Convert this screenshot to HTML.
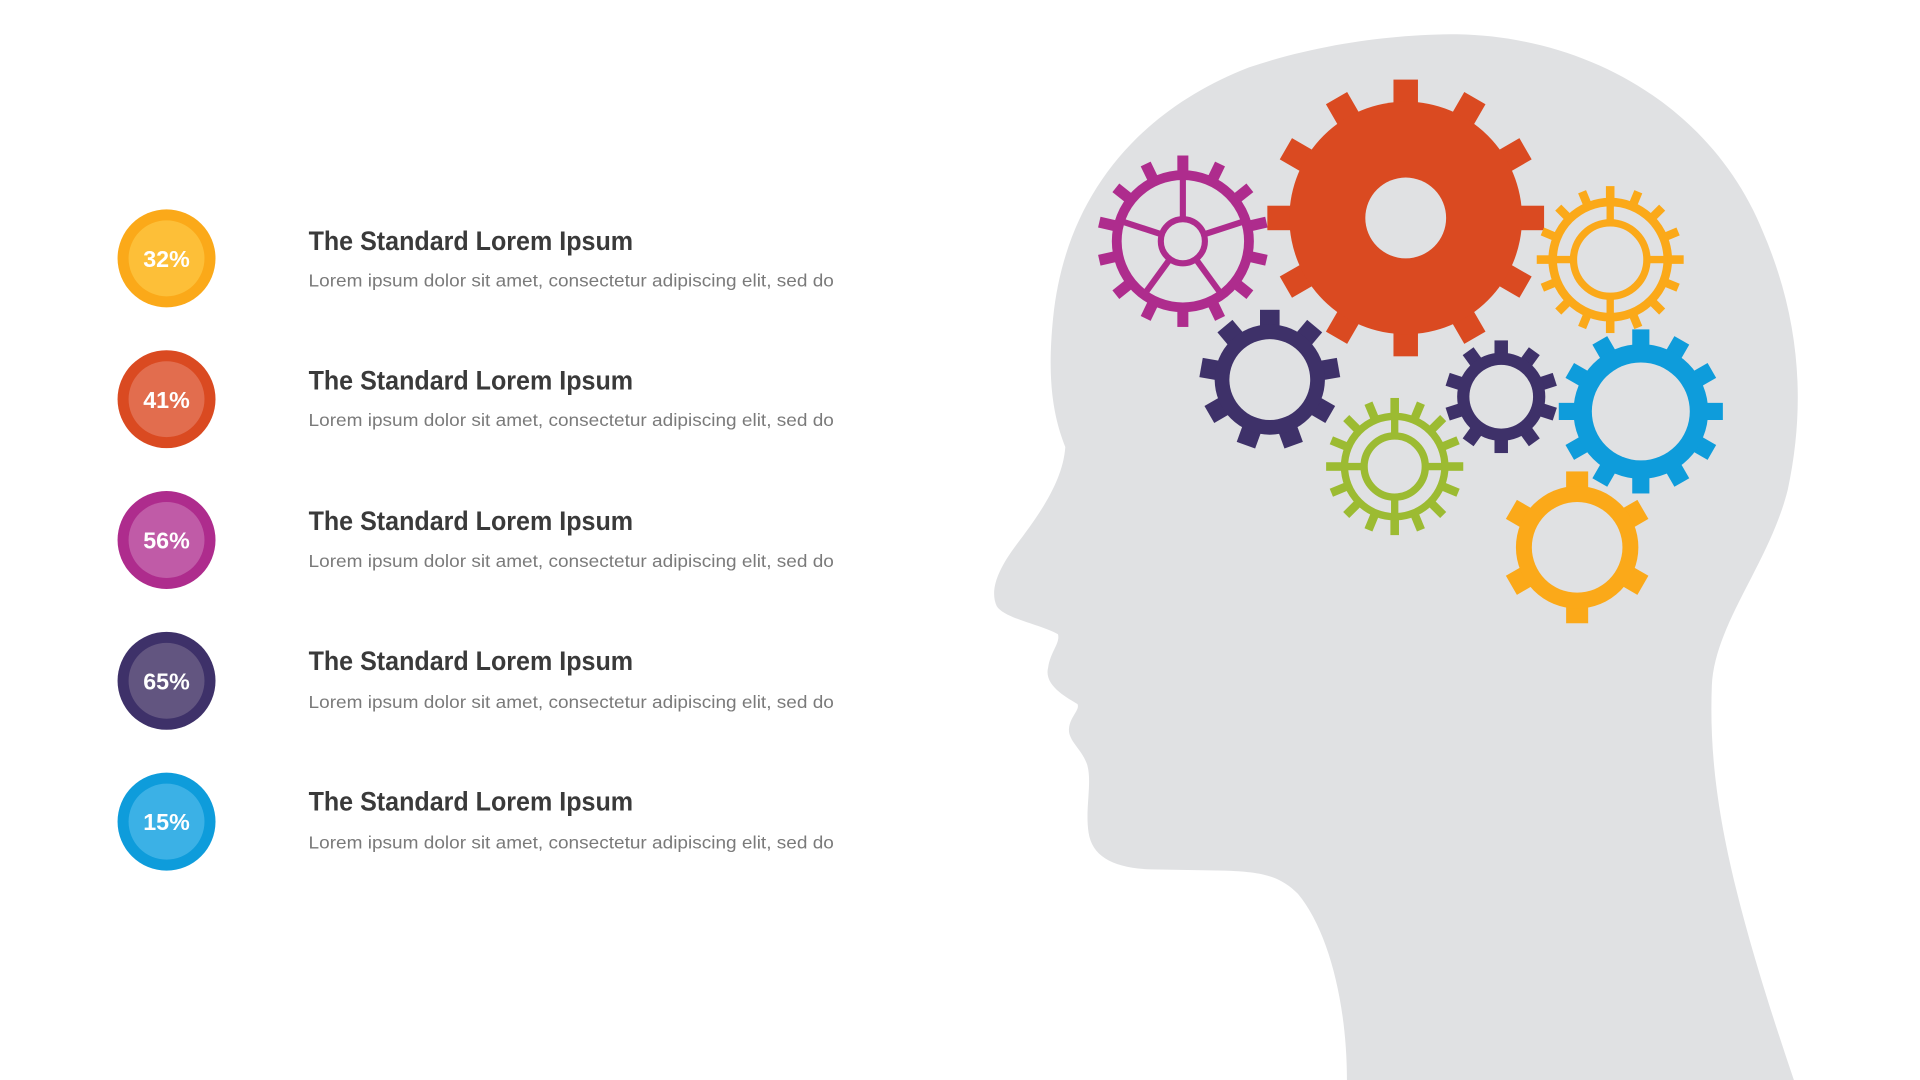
<!DOCTYPE html>
<html><head><meta charset="utf-8"><style>
html,body{margin:0;padding:0;background:#fff;width:1920px;height:1080px;overflow:hidden}
svg{display:block}
.t{font-family:"Liberation Sans",sans-serif;font-weight:bold;font-size:22px;fill:#3a3a3a}
.s{font-family:"Liberation Sans",sans-serif;font-size:14.5px;fill:#7a7a7a}
.p{font-family:"Liberation Sans",sans-serif;font-weight:bold;font-size:19px;fill:#fff}
</style></head><body>
<svg id="sv" width="1920" height="1080" viewBox="0 0 1568 882" xmlns="http://www.w3.org/2000/svg">
<path fill="#E0E1E3" d="M1100,882 C1100,820 1085,760 1060,730 C1045,715 1030,712 1000,711 L940,710 C910,709 892,700 889,680 C886,660 892,640 888,625 C884,612 872,605 873,595 C874,585 882,580 880,575 C872,570 852,560 856,545 C858,532 866,525 864,518 C850,510 820,505 814,495 C808,482 815,465 830,445 C845,425 868,395 870,365 C860,340 855,310 860,260 C870,160 930,90 1020,55 C1080,35 1140,28 1190,28 C1300,30 1400,90 1440,190 C1470,260 1475,330 1460,400 C1445,460 1400,510 1398,560 C1395,640 1410,720 1465,882 Z"/>
<g id="gears"></g>

<g>
<circle cx="136" cy="211" r="40" fill="#FBA919"/><circle cx="136" cy="211" r="31" fill="#FDBF38"/><text class="p" x="136" y="218" text-anchor="middle">32%</text>
<circle cx="136" cy="326" r="40" fill="#DA4A21"/><circle cx="136" cy="326" r="31" fill="#E26D4E"/><text class="p" x="136" y="333" text-anchor="middle">41%</text>
<circle cx="136" cy="441" r="40" fill="#AE2C8D"/><circle cx="136" cy="441" r="31" fill="#C05BA7"/><text class="p" x="136" y="448" text-anchor="middle">56%</text>
<circle cx="136" cy="556" r="40" fill="#3E3169"/><circle cx="136" cy="556" r="31" fill="#625580"/><text class="p" x="136" y="563" text-anchor="middle">65%</text>
<circle cx="136" cy="671" r="40" fill="#0E9CDB"/><circle cx="136" cy="671" r="31" fill="#3BB1E6"/><text class="p" x="136" y="678" text-anchor="middle">15%</text>
</g>
<g>
<text class="t" x="252" y="204" textLength="265" lengthAdjust="spacingAndGlyphs">The Standard Lorem Ipsum</text>
<text class="s" x="252" y="234" textLength="429" lengthAdjust="spacingAndGlyphs">Lorem ipsum dolor sit amet, consectetur adipiscing elit, sed do</text>
<text class="t" x="252" y="318" textLength="265" lengthAdjust="spacingAndGlyphs">The Standard Lorem Ipsum</text>
<text class="s" x="252" y="348" textLength="429" lengthAdjust="spacingAndGlyphs">Lorem ipsum dolor sit amet, consectetur adipiscing elit, sed do</text>
<text class="t" x="252" y="433" textLength="265" lengthAdjust="spacingAndGlyphs">The Standard Lorem Ipsum</text>
<text class="s" x="252" y="463" textLength="429" lengthAdjust="spacingAndGlyphs">Lorem ipsum dolor sit amet, consectetur adipiscing elit, sed do</text>
<text class="t" x="252" y="547" textLength="265" lengthAdjust="spacingAndGlyphs">The Standard Lorem Ipsum</text>
<text class="s" x="252" y="578" textLength="429" lengthAdjust="spacingAndGlyphs">Lorem ipsum dolor sit amet, consectetur adipiscing elit, sed do</text>
<text class="t" x="252" y="662" textLength="265" lengthAdjust="spacingAndGlyphs">The Standard Lorem Ipsum</text>
<text class="s" x="252" y="693" textLength="429" lengthAdjust="spacingAndGlyphs">Lorem ipsum dolor sit amet, consectetur adipiscing elit, sed do</text>
</g>
</svg>
<script>
var NS="http://www.w3.org/2000/svg",G=document.getElementById("gears"),BG="#E0E1E3";
function el(n,a){var e=document.createElementNS(NS,n);for(var k in a)e.setAttribute(k,a[k]);G.appendChild(e);return e;}
// solid gear: body r, hole r, tips r, n teeth, tooth width
function gear(cx,cy,c,tip,body,hole,n,w,off){
  for(var i=0;i<n;i++){var a=off+i*360/n;
    el("rect",{x:cx-w/2,y:cy-tip,width:w,height:tip-body+4,fill:c,transform:"rotate("+a+" "+cx+" "+cy+")"});}
  el("circle",{cx:cx,cy:cy,r:body,fill:c});
  el("circle",{cx:cx,cy:cy,r:hole,fill:BG});
}
function ring(cx,cy,c,r,sw){el("circle",{cx:cx,cy:cy,r:r,fill:"none",stroke:c,"stroke-width":sw});}
function line(x1,y1,x2,y2,c,sw){el("line",{x1:x1,y1:y1,x2:x2,y2:y2,stroke:c,"stroke-width":sw});}
// magenta spoke gear
(function(){var cx=966,cy=197,c="#AE2C8D";
 for(var i=0;i<14;i++){el("rect",{x:cx-4.5,y:cy-70,width:9,height:16,fill:c,transform:"rotate("+(i*360/14)+" "+cx+" "+cy+")"});}
 ring(cx,cy,58-4,8); ring(cx,cy,c,54,8);
 ring(cx,cy,c,18,5);
 for(var i=0;i<5;i++){var a=(-90+i*72)*Math.PI/180;line(cx+20*Math.cos(a),cy+20*Math.sin(a),cx+52*Math.cos(a),cy+52*Math.sin(a),c,5);}
})();
gear(1148,178,"#DA4A21",113,95,33,12,20,0);
// orange ring gear top right
(function(){var cx=1315,cy=212,c="#FBA919";
 for(var i=0;i<16;i++){el("rect",{x:cx-3.5,y:cy-60,width:7,height:14,fill:c,transform:"rotate("+(i*360/16)+" "+cx+" "+cy+")"});}
 ring(cx,cy,c,47,7); ring(cx,cy,c,30,6);
 for(var i=0;i<4;i++){var a=(-90+i*90)*Math.PI/180;line(cx+30*Math.cos(a),cy+30*Math.sin(a),cx+47*Math.cos(a),cy+47*Math.sin(a),c,6);}
})();
gear(1037,310,"#3E3169",57,45,33,9,16,0);
// green ring gear
(function(){var cx=1139,cy=381,c="#9CBB32";
 for(var i=0;i<16;i++){el("rect",{x:cx-3.5,y:cy-56,width:7,height:14,fill:c,transform:"rotate("+(i*360/16)+" "+cx+" "+cy+")"});}
 ring(cx,cy,c,41,6); ring(cx,cy,c,25,6);
 for(var i=0;i<4;i++){var a=(-90+i*90)*Math.PI/180;line(cx+25*Math.cos(a),cy+25*Math.sin(a),cx+41*Math.cos(a),cy+41*Math.sin(a),c,6);}
})();
gear(1226,324,"#3E3169",46,36,26,10,11,0);
gear(1340,336,"#0E9CDB",67,55,40,12,14,0);
gear(1288,447,"#FBA919",62,50,37,6,18,0);
</script>
</body></html>
